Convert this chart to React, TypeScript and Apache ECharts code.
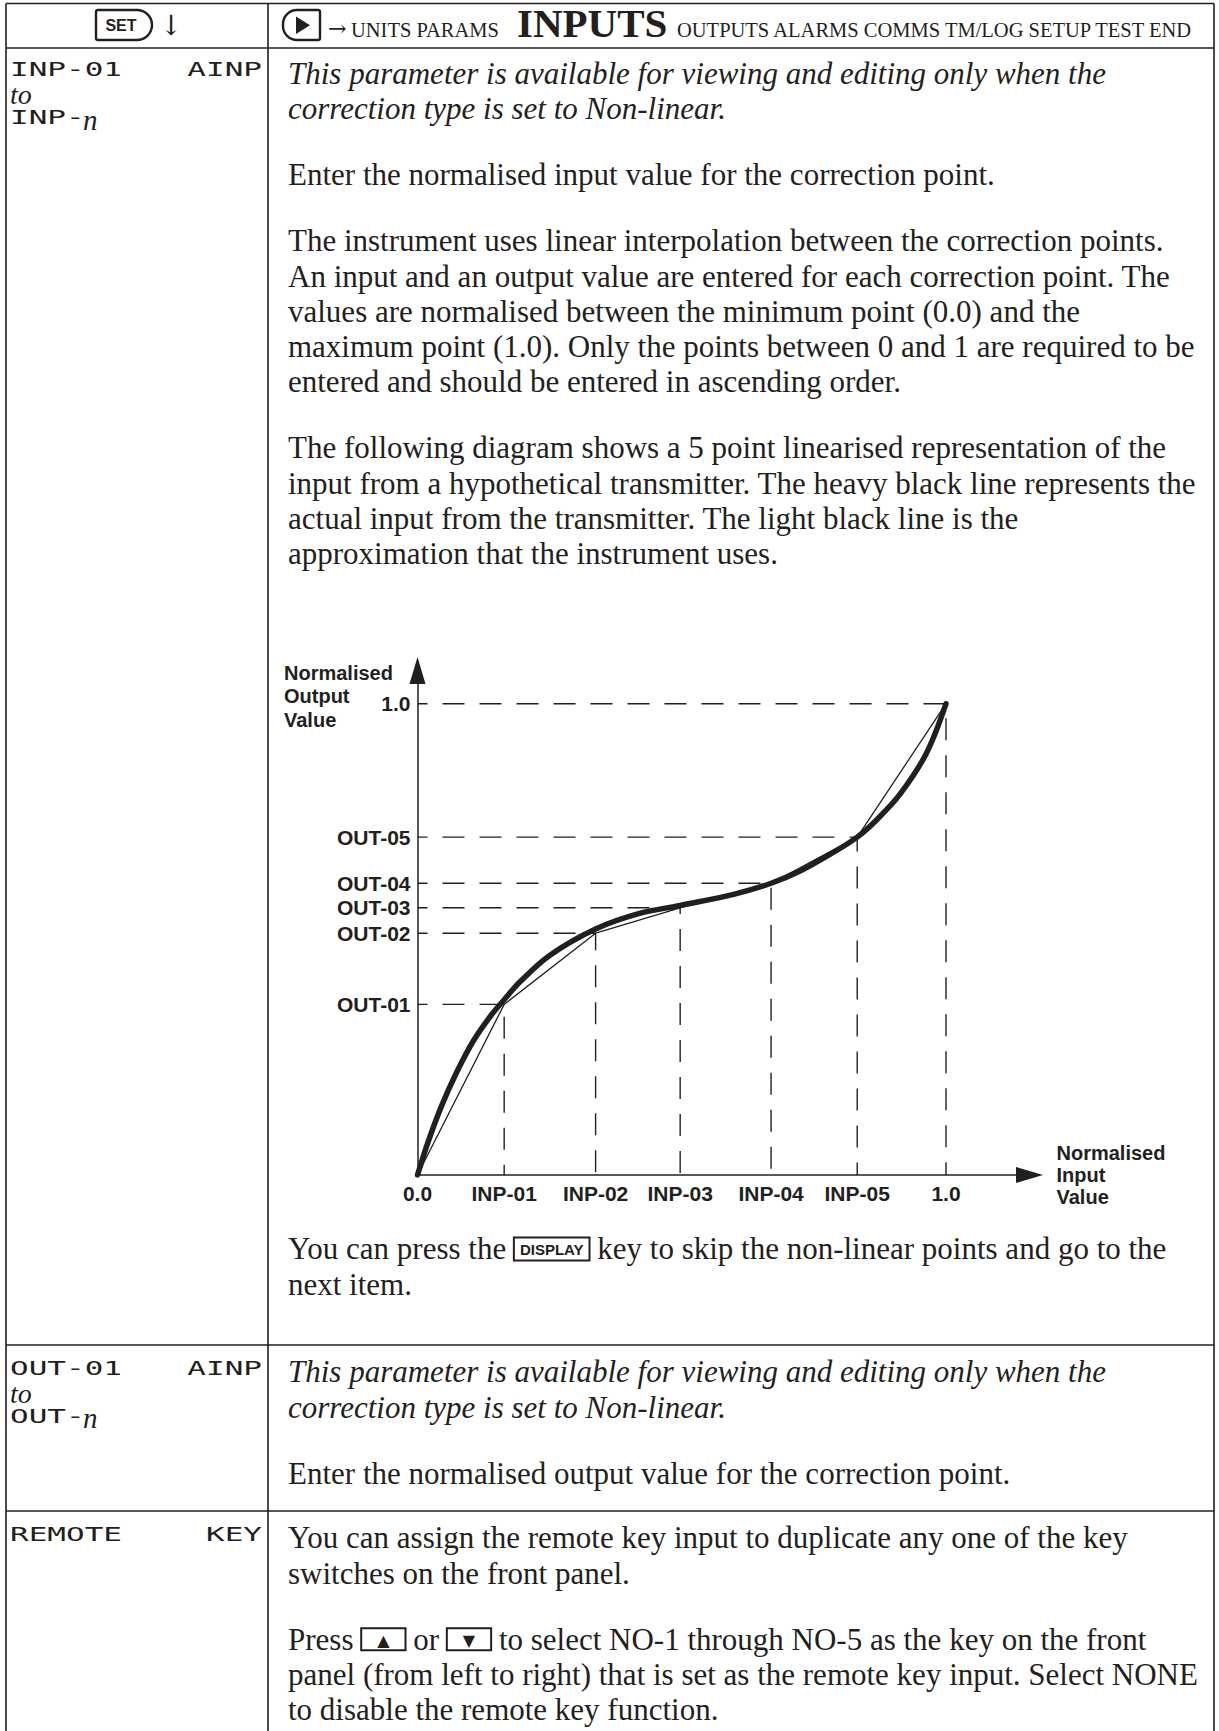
import React, { useEffect, useRef } from 'react';
import * as echarts from 'echarts';

const W = 1219;
const H = 1731;
const INK = '#231f20';
const SERIF = '"Liberation Serif", "Times New Roman", serif';
const SANS = '"Liberation Sans", Arial, sans-serif';
const MONO = '"DejaVu Sans Mono", monospace';

// ---- chart data (normalised) ----
const inpNames = ['0.0', 'INP-01', 'INP-02', 'INP-03', 'INP-04', 'INP-05', '1.0'];
const inpValues = [0, 0.164, 0.337, 0.497, 0.669, 0.832, 1.0];
const outNames = ['OUT-01', 'OUT-02', 'OUT-03', 'OUT-04', 'OUT-05', '1.0'];
const outValues = [0.362, 0.513, 0.567, 0.619, 0.717, 1.0];
const curveX = [0, 0.02, 0.045, 0.075, 0.107, 0.14, 0.164, 0.194, 0.25, 0.337, 0.42, 0.497, 0.6, 0.669, 0.724, 0.78, 0.832, 0.87, 0.913, 0.963, 1.0];
const curveY = [0, 0.07, 0.145, 0.22, 0.287, 0.34, 0.372, 0.41, 0.466, 0.522, 0.555, 0.572, 0.596, 0.619, 0.645, 0.68, 0.717, 0.755, 0.808, 0.895, 1.0];

// ---- texts ----
const headerSmall1 = 'UNITS PARAMS';
const headerBig = 'INPUTS';
const headerSmall2 = 'OUTPUTS ALARMS COMMS TM/LOG SETUP TEST END';
const italicNote = ['This parameter is available for viewing and editing only when the', 'correction type is set to Non-linear.'];
const r1p2 = ['Enter the normalised input value for the correction point.'];
const r1p3 = [
  'The instrument uses linear interpolation between the correction points.',
  'An input and an output value are entered for each correction point. The',
  'values are normalised between the minimum point (0.0) and the',
  'maximum point (1.0). Only the points between 0 and 1 are required to be',
  'entered and should be entered in ascending order.',
];
const r1p4 = [
  'The following diagram shows a 5 point linearised representation of the',
  'input from a hypothetical transmitter. The heavy black line represents the',
  'actual input from the transmitter. The light black line is the',
  'approximation that the instrument uses.',
];
const r1p5 = ['You can press the {key|DISPLAY} key to skip the non-linear points and go to the', 'next item.'];
const r2p2 = ['Enter the normalised output value for the correction point.'];
const r3p1 = ['You can assign the remote key input to duplicate any one of the key', 'switches on the front panel.'];
const r3p2 = [
  'Press {arr|▲} or {arr|▼} to select NO-1 through NO-5 as the key on the front',
  'panel (from left to right) that is set as the remote key input. Select NONE',
  'to disable the remote key function.',
];

const LH = 35.3;
const PG = 66;
const TX = 288;
const FS = 31;

function para(lines: string[], yc: number, italic = false): any {
  return {
    type: 'text',
    x: TX,
    y: yc - LH / 2,
    silent: true,
    style: {
      text: lines.join('\n'),
      fontFamily: SERIF,
      fontSize: FS,
      fontStyle: italic ? 'italic' : 'normal',
      fill: INK,
      lineHeight: LH,
      align: 'left',
      verticalAlign: 'top',
      rich: {
        key: {
          fontFamily: SANS, fontWeight: 'bold', fontSize: 15, fill: INK,
          borderColor: INK, borderWidth: 2, padding: [5, 6, 3, 6], lineHeight: 18,
        },
        arr: {
          fontFamily: '"DejaVu Sans", sans-serif', fontSize: 16, fill: INK,
          borderColor: INK, borderWidth: 2, padding: [4, 16, 2, 16], lineHeight: 24,
        },
      },
    },
  };
}

function lcd(text: string, x: number, yc: number, right = false): any {
  return {
    type: 'text', x, y: yc, scaleX: 1.55, silent: true,
    style: { text, fontFamily: MONO, fontSize: 20, fill: INK, align: right ? 'right' : 'left', verticalAlign: 'middle' },
  };
}

function ital(text: string, x: number, yc: number, size = 28): any {
  return {
    type: 'text', x, y: yc, silent: true,
    style: { text, fontFamily: SERIF, fontStyle: 'italic', fontSize: size, fill: INK, align: 'left', verticalAlign: 'middle' },
  };
}

function hline(x1: number, x2: number, y: number): any {
  return { type: 'line', silent: true, shape: { x1, y1: y, x2, y2: y }, style: { stroke: INK, lineWidth: 1.6 } };
}
function vline(x: number, y1: number, y2: number): any {
  return { type: 'line', silent: true, shape: { x1: x, y1, x2: x, y2 }, style: { stroke: INK, lineWidth: 1.6 } };
}

const TL = 6, TR = 1214, TT = 3.5, HB = 48, DIV = 268, SEP1 = 1345, SEP2 = 1511;
const T1 = 73.5; // centre of first text line, row 1
const T2 = SEP1 + 27;
const T3 = SEP2 + 27;

function buildOption(): any {
  const p2 = T1 + LH + PG;
  const p3 = p2 + PG;
  const p4 = p3 + 4 * LH + PG;
  const graphic: any[] = [
    // table frame
    hline(TL, TR, TT), hline(TL, TR, HB), hline(TL, TR, SEP1), hline(TL, TR, SEP2),
    vline(TL, TT, H), vline(TR, TT, H), vline(DIV, TT, H),
    // SET key
    { type: 'rect', silent: true, shape: { x: 96, y: 10, width: 56, height: 30, r: [2, 15, 15, 2] }, style: { fill: 'none', stroke: INK, lineWidth: 2.4 } },
    { type: 'text', x: 121, y: 25.5, silent: true, style: { text: 'SET', fontFamily: SANS, fontWeight: 'bold', fontSize: 16, fill: INK, align: 'center', verticalAlign: 'middle' } },
    { type: 'text', x: 171, y: 25.5, silent: true, style: { text: '↓', fontFamily: '"DejaVu Serif", serif', fontSize: 28, fill: INK, align: 'center', verticalAlign: 'middle' } },
    // play key
    { type: 'rect', silent: true, shape: { x: 283, y: 10, width: 37, height: 30, r: [14, 2, 2, 14] }, style: { fill: 'none', stroke: INK, lineWidth: 2.4 } },
    { type: 'polygon', silent: true, shape: { points: [[296, 16.5], [296, 34], [310, 25.3]] }, style: { fill: INK } },
    // header text
    { type: 'text', x: 328, y: 28, silent: true, style: { text: '→', fontFamily: '"DejaVu Serif", serif', fontSize: 22, fill: INK, align: 'left', verticalAlign: 'middle' } },
    { type: 'text', x: 351, y: 37 - 0.3375 * 20.5, silent: true, style: { text: headerSmall1, fontFamily: SERIF, fontSize: 20.5, fill: INK, align: 'left', verticalAlign: 'middle' } },
    { type: 'text', x: 517, y: 37 - 0.3375 * 41, silent: true, style: { text: headerBig, fontFamily: SERIF, fontWeight: 'bold', fontSize: 41, fill: INK, align: 'left', verticalAlign: 'middle' } },
    { type: 'text', x: 677, y: 37 - 0.3375 * 20.5, silent: true, style: { text: headerSmall2, fontFamily: SERIF, fontSize: 20.5, fill: INK, align: 'left', verticalAlign: 'middle' } },
    // left column
    lcd('INP-01', 10, T1 - 4), lcd('AINP', 262, T1 - 4, true),
    ital('to', 10, T1 + 21),
    lcd('INP-', 10, T1 + 44), ital('n', 83, T1 + 46, 29),
    lcd('OUT-01', 10, T2 - 4), lcd('AINP', 262, T2 - 4, true),
    ital('to', 10, T2 + 21),
    lcd('OUT-', 10, T2 + 44), ital('n', 83, T2 + 46, 29),
    lcd('REMOTE', 10, T3 - 4), lcd('KEY', 262, T3 - 4, true),
    // right column paragraphs
    para(italicNote, T1, true),
    para(r1p2, p2),
    para(r1p3, p3),
    para(r1p4, p4),
    para(r1p5, 1249),
    para(italicNote, T2, true),
    para(r2p2, T2 + LH + PG),
    para(r3p1, T3),
    para(r3p2, T3 + LH + PG),
    // y axis name
    {
      type: 'text', x: 284, y: 661, silent: true,
      style: { text: 'Normalised\nOutput\nValue', fontFamily: SANS, fontWeight: 'bold', fontSize: 20, lineHeight: 23.5, fill: INK, align: 'left', verticalAlign: 'top' },
    },
  ];

  const labelStyle = { fontFamily: SANS, fontWeight: 'bold', fontSize: 21, color: INK };

  const guides = outValues.map((o, i) => ({
    type: 'line',
    data: [[0, o], [inpValues[i + 1], o], [inpValues[i + 1], 0]],
    symbol: 'none', silent: true, z: 1,
    lineStyle: { color: INK, width: 1.4, type: [22, 15], dashOffset: 12 },
  }));

  const thin = {
    type: 'line', symbol: 'none', silent: true, z: 3,
    data: inpValues.map((x, i) => [x, i === 0 ? 0 : outValues[i - 1]]),
    lineStyle: { color: INK, width: 1.3 },
  };
  const thick = {
    type: 'line', symbol: 'none', silent: true, z: 2, smooth: 0.35,
    data: curveX.map((x, i) => [x, curveY[i]]),
    lineStyle: { color: INK, width: 5.5, cap: 'round' },
  };

  return {
    animation: false,
    backgroundColor: '#ffffff',
    grid: { left: 417.5, top: 670.5, width: 612, height: 504.5, containLabel: false },
    xAxis: {
      type: 'value', min: 0, max: 1.158,
      axisLine: { show: true, lineStyle: { color: INK, width: 1.5 }, symbol: ['none', 'triangle'], symbolSize: [16, 27] },
      axisTick: { show: false }, splitLine: { show: false },
      axisLabel: {
        ...labelStyle, margin: 8, customValues: inpValues,
        formatter: (v: number) => { const i = inpValues.findIndex((x) => Math.abs(x - v) < 1e-6); return i >= 0 ? inpNames[i] : ''; },
      },
      name: 'Normalised\nInput\nValue', nameLocation: 'end', nameGap: 27,
      nameTextStyle: { fontFamily: SANS, fontWeight: 'bold', fontSize: 20, color: INK, lineHeight: 22, align: 'left', verticalAlign: 'middle' },
    },
    yAxis: {
      type: 'value', min: 0, max: 1.0705,
      axisLine: { show: true, lineStyle: { color: INK, width: 1.5 }, symbol: ['none', 'triangle'], symbolSize: [16, 27] },
      axisTick: { show: false }, splitLine: { show: false },
      axisLabel: {
        ...labelStyle, margin: 7, customValues: outValues,
        formatter: (v: number) => { const i = outValues.findIndex((x) => Math.abs(x - v) < 1e-6); return i >= 0 ? outNames[i] : ''; },
      },
    },
    series: [...guides, thick, thin],
    graphic,
  };
}

export default function App() {
  const ref = useRef<HTMLDivElement>(null);
  useEffect(() => {
    const el = ref.current;
    if (!el) return;
    const chart = echarts.init(el, null, { renderer: 'svg' });
    chart.setOption(buildOption());
    return () => chart.dispose();
  }, []);
  return (
    <div
      ref={ref}
      style={{ position: 'absolute', left: 0, top: 0, width: W, height: H, background: '#ffffff' }}
    />
  );
}
